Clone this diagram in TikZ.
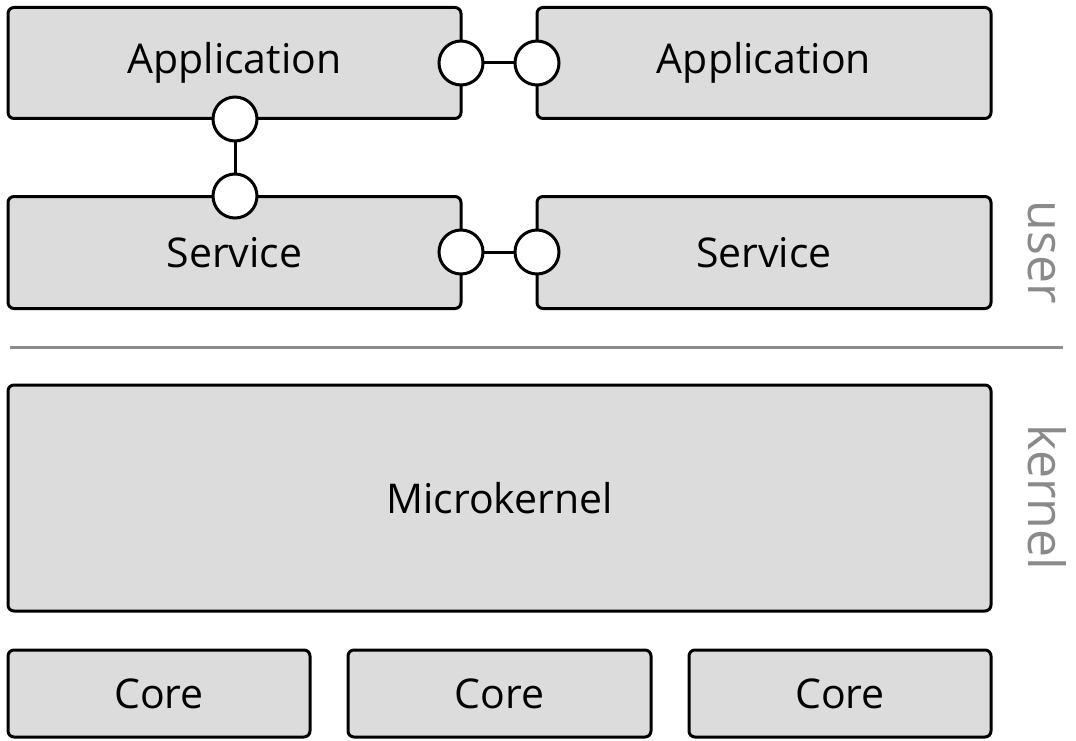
\documentclass[tikz,border=0pt]{standalone}
\usepackage{fontspec}
\setmainfont{Open Sans}
\begin{document}
\begin{tikzpicture}[x=1pt,y=-1pt,
  box/.style={draw=black, line width=3pt, fill=boxgray, rounded corners=6pt,
    inner sep=0pt, outer sep=0pt, font=\fontsize{41}{48}\selectfont},
  port/.style={circle, draw=black, line width=3pt, fill=white,
    minimum size=44pt, inner sep=0pt, outer sep=0pt},
  link/.style={draw=black, line width=3pt},
  layer/.style={text=layergray, font=\fontsize{50}{60}\selectfont,
    rotate=-90, anchor=base, inner sep=0pt}
]
\definecolor{boxgray}{HTML}{DCDCDC}
\definecolor{layergray}{HTML}{8A8A8A}
\definecolor{rulegray}{HTML}{8C8C8C}
\useasboundingbox (0,0) rectangle (1076,741);

% user-space components
\node[box, minimum width=453pt, minimum height=111pt] (app1) at (234.5,63) {Application};
\node[box, minimum width=454pt, minimum height=111pt] (app2) at (764,63) {Application};
\node[box, minimum width=453pt, minimum height=112pt] (srv1) at (234.5,252.5) {Service};
\node[box, minimum width=454pt, minimum height=112pt] (srv2) at (764,252.5) {Service};

% kernel and cores
\node[box, minimum width=983pt, minimum height=226pt] (mk) at (499.5,498) {Microkernel};
\node[box, minimum width=302pt, minimum height=87pt] (core1) at (159,693.5) {Core};
\node[box, minimum width=303pt, minimum height=87pt] (core2) at (499.5,693.5) {Core};
\node[box, minimum width=302pt, minimum height=87pt] (core3) at (840,693.5) {Core};

% user/kernel boundary
\coordinate (sepL) at (10,347);
\coordinate (sepR) at (1063,347);
\draw[rulegray, line width=3pt] (sepL) -- (sepR);

% interface ports
\node[port] (pa1) at (461,63) {};
\node[port] (pa2) at (537,63) {};
\node[port] (ps1) at (461,252) {};
\node[port] (ps2) at (537,252) {};
\node[port] (pv1) at (235,119) {};
\node[port] (pv2) at (235,196) {};

\draw[link] (pa1) -- (pa2);
\draw[link] (ps1) -- (ps2);
\draw[link] (pv1) -- (pv2);

% layer labels
\node[layer] (user) at (1028,252) {user};
\node[layer] (kernel) at (1028,497.5) {kernel};
\end{tikzpicture}
\end{document}
